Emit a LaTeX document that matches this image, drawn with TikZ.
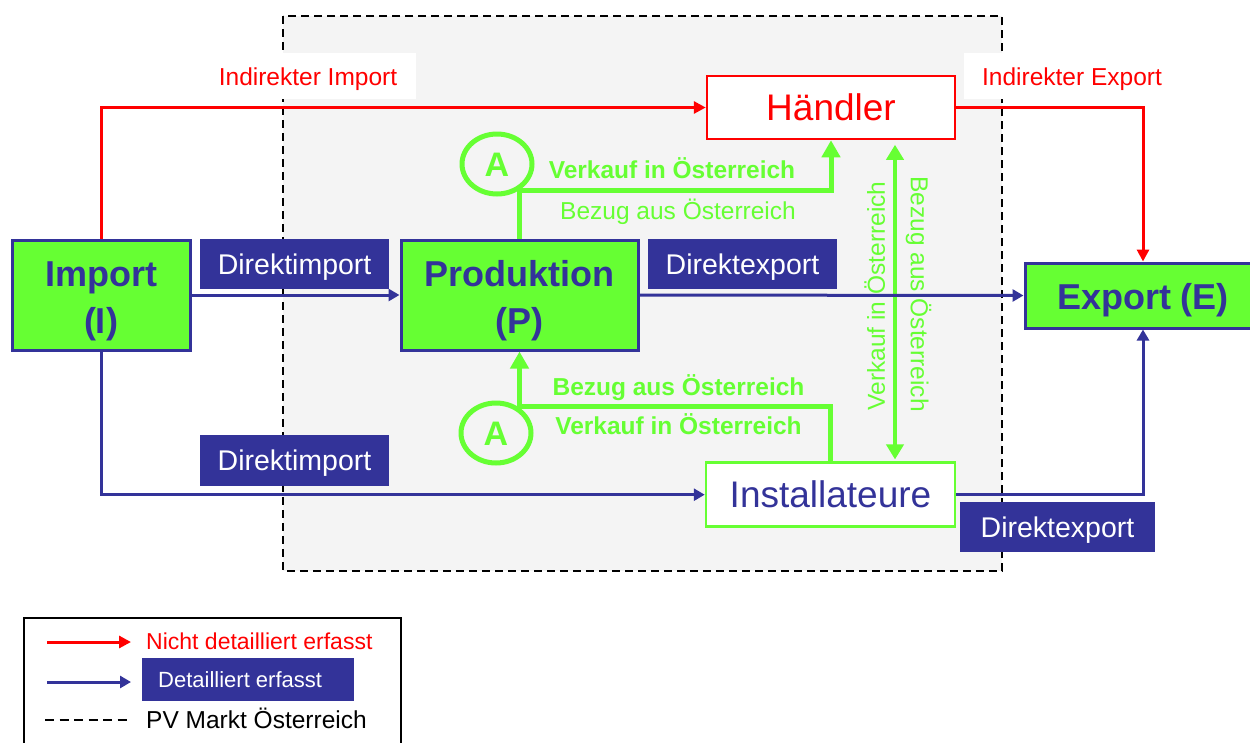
\documentclass[tikz,border=0pt]{standalone}
\usepackage{fontspec}
\setmainfont{Liberation Sans}
\usetikzlibrary{arrows.meta,shapes.geometric}
\definecolor{pvgreen}{HTML}{66FF33}
\definecolor{pvblue}{HTML}{333399}
\definecolor{pvred}{HTML}{FF0000}
\definecolor{pvgray}{HTML}{F4F4F4}
\newcommand{\fsz}[2]{\fontsize{#1}{#2}\selectfont}
\begin{document}
\begin{tikzpicture}[x=1pt,y=-1pt,
  mainbox/.style={draw=pvblue, line width=3pt, fill=pvgreen, inner sep=0pt},
  boxtext/.style={text=pvblue, font=\fsz{36}{47}\bfseries, align=center, inner sep=0pt},
  bluelab/.style={fill=pvblue, text=white, font=\fsz{28.5}{34}, inner sep=0pt,
    text height=20.4pt, text depth=0pt},
  glab/.style={text=pvgreen, font=\fsz{24.5}{29}, inner sep=0pt, text height=17.5pt, text depth=0pt},
  gbold/.style={text=pvgreen, font=\fsz{24.5}{29}\bfseries, inner sep=0pt, text height=17.5pt, text depth=0pt},
  redlab/.style={text=pvred, font=\fsz{24.5}{29}, inner sep=0pt, text height=17.5pt, text depth=0pt},
  circA/.style={ellipse, draw=pvgreen, line width=5pt, fill=pvgray, minimum width=70pt, minimum height=60pt,
    inner sep=0pt, text=pvgreen, font=\fsz{34}{40}\bfseries, text height=24.4pt, text depth=0pt},
  garrow/.style={draw=pvgreen, line width=5pt, -{Triangle[length=17pt,width=18pt]}},
  gdouble/.style={draw=pvgreen, line width=4.5pt, {Triangle[length=15pt,width=17pt]}-{Triangle[length=15pt,width=17pt]}},
  barrow/.style={draw=pvblue, line width=3pt, -{Triangle[length=11pt,width=12pt]}},
  rarrow/.style={draw=pvred, line width=3pt, -{Triangle[length=12pt,width=12pt]}},
  legtext/.style={font=\fsz{23}{28}, inner sep=0pt, text height=16.5pt, text depth=0pt, anchor=west}
]
\useasboundingbox (0,0) rectangle (1250,742);

% PV market region
\draw[fill=pvgray, draw=black, line width=2.2pt, dash pattern=on 8pt off 5pt] (283,16) rectangle (1002,571);
% white patches behind the red labels
\fill[white] (275,53) rectangle (416,99);
\fill[white] (964,53) rectangle (1010,99);

\node[redlab] (indimp) at (308,77) {Indirekter Import};
\node[redlab] (indexp) at (1072,77) {Indirekter Export};

% main boxes
\node[mainbox, minimum width=178pt, minimum height=110pt] (imp) at (101,295) {};
\node[boxtext] (impt) at (101,301) {Import\\(I)};
\node[mainbox, minimum width=237pt, minimum height=110pt] (prod) at (519.5,295) {};
\node[boxtext] (prodt) at (519.5,301) {Produktion\\(P)};
\node[mainbox, minimum width=236pt, minimum height=65pt] (exp) at (1143,295.5) {};
\node[boxtext, text height=25.8pt, text depth=0pt] (expt) at (1143,296.5) {Export (E)};
\node[draw=pvred, line width=2.5pt, fill=white, minimum width=248pt, minimum height=63pt, inner sep=0pt,
  text=pvred, font=\fsz{37}{44}, text height=26.5pt, text depth=0pt] (hand) at (831,107.5) {Händler};
\node[draw=pvgreen, line width=2.5pt, fill=white, minimum width=249pt, minimum height=64pt, inner sep=0pt,
  text=pvblue, font=\fsz{37}{44}, text height=26.5pt, text depth=0pt] (inst) at (830.5,494.7) {Installateure};

% blue labels
\node[bluelab, minimum width=188.4pt, minimum height=50pt] (dimp1) at (294.6,264) {Direktimport};
\node[bluelab, minimum width=189pt, minimum height=50pt] (dexp1) at (742.5,264) {Direktexport};
\node[bluelab, minimum width=189pt, minimum height=50.5pt] (dimp2) at (294.5,460.5) {Direktimport};
\node[bluelab, minimum width=195pt, minimum height=50pt] (dexp2) at (1057.5,527) {Direktexport};

% green labels
\node[gbold] (vk1) at (672,170) {Verkauf in Österreich};
\node[glab] (bz1) at (678,211) {Bezug aus Österreich};
\node[gbold] (bz2) at (678.5,387) {Bezug aus Österreich};
\node[gbold] (vk2) at (678.5,426) {Verkauf in Österreich};
\node[glab, rotate=90] (vk3) at (876,296) {Verkauf in Österreich};
\node[glab, rotate=-90] (bz3) at (919.5,294) {Bezug aus Österreich};

% green flows
\draw[garrow] (prod.north) -- (prod.north |- 0,190) -| (hand.south);
\draw[garrow] (inst.north) -- (inst.north |- 0,406) -| (prod.south);
\path (hand.south -| 895,0) ++(0,4.5) coordinate (dtop);
\path (inst.north -| 895,0) ++(0,-2) coordinate (dbot);
\draw[gdouble] (dtop) -- (dbot);
\node[circA] (a1) at (497,164) {A};
\node[circA] (a2) at (496,433) {A};

% red flows
\draw[rarrow] (imp.north) |- (hand.west);
\draw[rarrow] (hand.east) -| (exp.north);

% blue flows
\draw[barrow] (imp.east) -- (prod.west);
\draw[barrow] (prod.east) -- (exp.west);
\draw[barrow] (imp.south) |- (inst.west);
\draw[barrow] (inst.east) -| (exp.south);

% legend
\draw[black, line width=2pt] (24,618) rectangle (401,760);
\coordinate (lr1) at (47,642); \coordinate (lr2) at (131,642);
\coordinate (lb1) at (47,682); \coordinate (lb2) at (131,682);
\coordinate (ld1) at (45,720); \coordinate (ld2) at (127,720);
\draw[rarrow] (lr1) -- (lr2);
\draw[barrow] (lb1) -- (lb2);
\draw[black, line width=2pt, dash pattern=on 9pt off 5.5pt] (ld1) -- (ld2);
\node[legtext, text=pvred] (l1) at (146,641.5) {Nicht detailliert erfasst};
\node[fill=pvblue, minimum width=212pt, minimum height=42.5pt, inner sep=0pt] (l2box) at (248,679.5) {};
\node[legtext, text=white, font=\fsz{22}{27}, text height=15.8pt] (l2) at (158,680) {Detailliert erfasst};
\node[legtext, text=black, font=\fsz{24.5}{29}, text height=17.5pt] (l3) at (146,720) {PV Markt Österreich};
\end{tikzpicture}
\end{document}
